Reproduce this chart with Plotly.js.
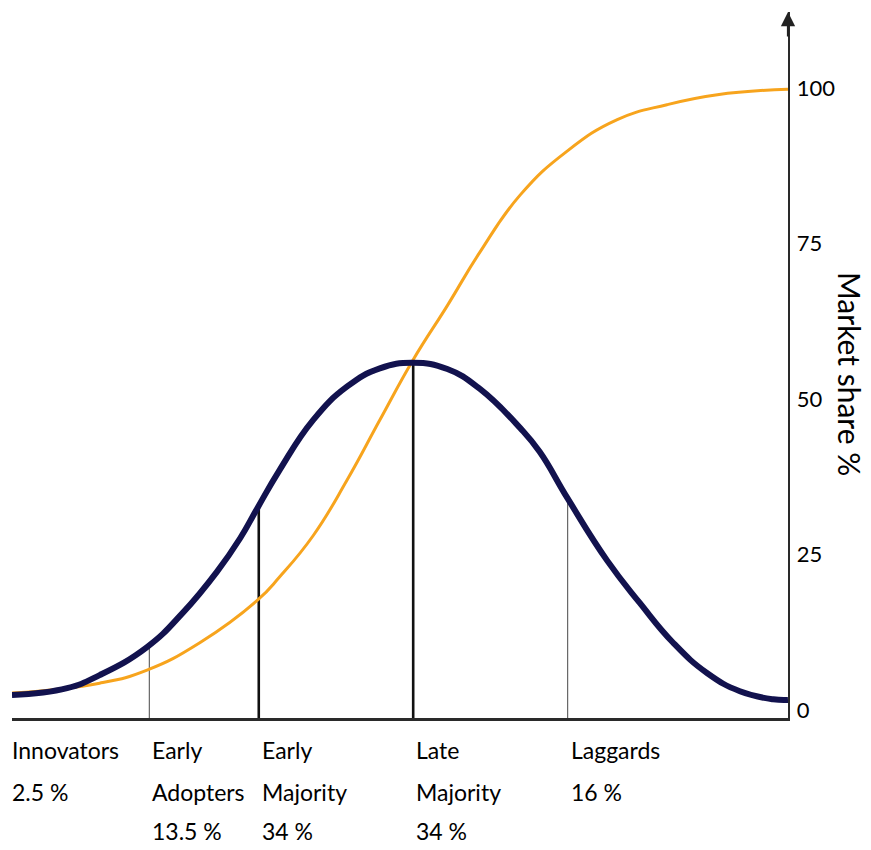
<!DOCTYPE html>
<html>
<head>
<meta charset="utf-8">
<script src="https://cdn.plot.ly/plotly-3.0.1.min.js"></script>
<style>html,body{margin:0;padding:0;background:#fff;}#chart{width:871px;height:850px;}</style>
</head>
<body>
<div id="chart"></div>
<script>
// Diffusion of innovations: adoption bell curve and cumulative market share
const bellX = [0, 7.1, 11.3, 17.4, 22.0, 26.4, 29.4, 31.6, 34.5, 38.8, 43.2, 47.4, 51.7, 56.1, 60.3, 65.5, 68.0, 71.6, 76.7, 80.9, 85.2, 89.6, 93.8, 98.1, 100];
const bellY = [2.4, 3.5, 5.6, 10.1, 15.6, 22.2, 27.6, 32.4, 38.6, 46.6, 52.0, 54.9, 55.8, 54.8, 51.6, 45.3, 41.5, 34.0, 24.0, 17.2, 10.8, 5.9, 3.0, 1.7, 1.6];

const shareX = [0, 11.3, 17.4, 24.2, 31.6, 34.5, 38.8, 43.2, 47.4, 51.7, 56.1, 60.3, 65.5, 71.5, 78.0, 84.4, 90.9, 100];
const shareY = [2.7, 4.3, 6.4, 10.8, 17.6, 21.4, 28.0, 37.0, 46.6, 56.3, 65.0, 73.6, 82.8, 89.8, 94.9, 97.3, 98.9, 99.8];

const boundaryX = [17.7, 31.8, 51.7, 71.6];
const boundaryTop = [10.4, 32.8, 55.8, 34.0];
const boundaryBold = [false, true, true, false];

const categoryNames = ["Innovators", "Early Adopters", "Early Majority", "Late Majority", "Laggards"];
const categoryShares = ["2.5", "13.5", "34", "34", "16"];

const yTicks = [0, 25, 50, 75, 100];
const yTitle = "Market share %";

const Y_MIN = -1.3, Y_MAX = 112.2;

const traces = [];
[true, false].forEach(bold => {
  const xs = [], ys = [];
  boundaryX.forEach((bx, i) => {
    if (boundaryBold[i] === bold) { xs.push(bx, bx, null); ys.push(Y_MIN, boundaryTop[i], null); }
  });
  traces.push({x: xs, y: ys, mode: 'lines', type: 'scatter', hoverinfo: 'skip',
    line: {color: bold ? '#111111' : '#666666', width: bold ? 2.6 : 1.2}});
});
traces.push({x: shareX, y: shareY, mode: 'lines', type: 'scatter', name: 'Market share',
  line: {color: '#F7A41D', width: 3, shape: 'spline', smoothing: 1.3}});
traces.push({x: bellX, y: bellY, mode: 'lines', type: 'scatter', name: 'Adopters',
  line: {color: '#12124e', width: 6, shape: 'spline', smoothing: 1.3}});

const labelFont = {family: 'Lato, "Open Sans", sans-serif', size: 23, color: '#000'};
const annotations = [];
const labelStarts = [0].concat(boundaryX);
const lineShifts = [-32, -74, -113];
categoryNames.forEach((name, i) => {
  const lines = name.split(' ').concat([categoryShares[i] + ' %']);
  lines.forEach((t, j) => {
    annotations.push({x: labelStarts[i], xref: 'x', y: 0, yref: 'paper', text: t, showarrow: false,
      xanchor: 'left', yanchor: 'middle', xshift: i === 0 ? -2 : 1, yshift: lineShifts[j], font: labelFont});
  });
});
annotations.push({x: 1.08, xref: 'paper', y: 54, yref: 'y', text: yTitle, textangle: 90, showarrow: false,
  xanchor: 'center', yanchor: 'middle', font: {family: 'Lato, sans-serif', size: 30, color: '#000'}});
annotations.push({x: 1, xref: 'paper', y: 1, yref: 'paper', text: '', showarrow: true, ax: 0, ay: 26,
  arrowhead: 2, arrowsize: 1.3, arrowwidth: 2.2, arrowcolor: '#222', standoff: 0});

const layout = {
  width: 871, height: 850,
  margin: {l: 12, r: 83, t: 12, b: 132, pad: 0},
  paper_bgcolor: '#fff', plot_bgcolor: '#fff',
  showlegend: false,
  xaxis: {range: [0, 100], showgrid: false, zeroline: false, showticklabels: false, ticks: '',
    showline: true, linecolor: '#2a2a2a', linewidth: 3, fixedrange: true},
  yaxis: {range: [Y_MIN, Y_MAX], side: 'right', tickvals: yTicks, showgrid: false, zeroline: false,
    ticks: '', ticklabelstandoff: 2, showline: true, linecolor: '#2a2a2a', linewidth: 2.4,
    tickfont: {family: 'Lato, sans-serif', size: 22, color: '#000'},
    fixedrange: true},
  annotations: annotations
};
Plotly.newPlot('chart', traces, layout, {displayModeBar: false, staticPlot: true});
</script>
</body>
</html>
